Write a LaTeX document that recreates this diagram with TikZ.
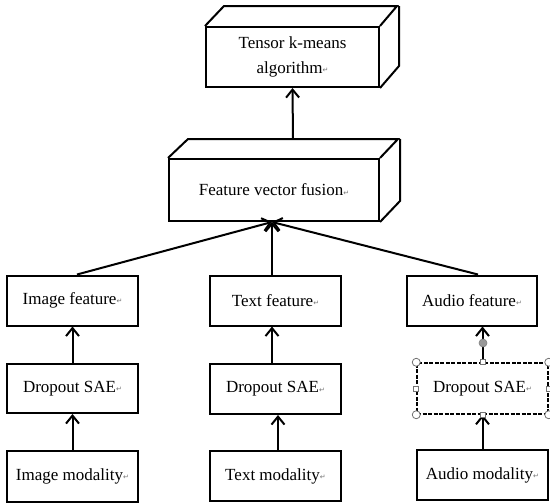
\documentclass[tikz,border=0pt]{standalone}
\usepackage{fontspec}
\setmainfont{Liberation Serif}
\newfontfamily\symfont{DejaVu Sans}
\usetikzlibrary{arrows.meta}
\newcommand{\rmk}{{\symfont\fontsize{7}{7}\selectfont\textcolor{black!55}{\raisebox{0.2ex}{↵}}}}
\begin{document}
\begin{tikzpicture}[x=1pt,y=-1pt, font=\fontsize{17}{25}\selectfont,
  box/.style={draw, line width=2pt, minimum width=131pt, minimum height=50pt, inner sep=0pt, align=center},
  arr/.style={line width=2pt, -{Straight Barb[length=8pt,width=13pt,line width=2pt]}},
  face/.style={line width=2pt, line join=miter},
  handle/.style={draw=black!55, fill=white, line width=0.8pt}]
\useasboundingbox (0,0) rectangle (550,504);

% top cuboid
\node[box, minimum width=173pt, minimum height=60pt] (tensor) at (292.5,57) {Tensor k-means\\algorithm\rmk};
\draw[face] (tensor.north west) -- ++(19,-20) -- ++(173,0) -- (tensor.north east);
\draw[face] ([shift={(19,-20)}]tensor.north east) -- ++(0,60) -- (tensor.south east);

% fusion cuboid
\node[box, minimum width=210pt, minimum height=62pt] (fusion) at (274,190) {Feature vector fusion\rmk};
\draw[face] (fusion.north west) -- ++(20,-19) -- ++(210,0) -- (fusion.north east);
\draw[face] ([shift={(20,-19)}]fusion.north east) -- ++(0,62) -- (fusion.south east);

% feature boxes
\node[box, minimum height=50pt] (imgf) at (72.5,300.5) {Image feature\rmk};
\node[box, minimum height=50pt] (txtf) at (275.5,300.5) {Text feature\rmk};
\node[box, minimum width=130pt, minimum height=50pt] (audf) at (472,300.5) {Audio feature\rmk};

% dropout boxes
\node[box, minimum height=49pt] (imgd) at (72.5,388.5) {Dropout SAE\rmk};
\node[box, minimum height=50pt] (txtd) at (275.5,389) {Dropout SAE\rmk};
\node[box, minimum height=51pt, line width=1.5pt, dash pattern=on 4pt off 1.5pt] (audd) at (482.5,388.5) {Dropout SAE\rmk};

% modality boxes
\node[box, minimum height=51pt] (imgm) at (72.5,476.5) {Image modality\rmk};
\node[box, minimum height=50pt] (txtm) at (275.5,476) {Text modality\rmk};
\node[box, minimum height=50pt] (audm) at (482.5,475) {Audio modality\rmk};

% arrows
\draw[arr] (imgm.north) -- (imgd.south);
\draw[arr] (imgd.north) -- (imgf.south);
\draw[arr] ([xshift=2.5pt]txtm.north) -- ([xshift=2.5pt]txtd.south);
\draw[arr] ([xshift=-3.5pt]txtd.north) -- ([xshift=-3.5pt]txtf.south);
\draw[arr] (audm.north) -- (audd.south);
\draw[arr] (audd.north) -- (audd.north |- audf.south);

\draw[arr] ([xshift=4.5pt]imgf.north) -- ([xshift=-2pt]fusion.south);
\draw[arr] ([xshift=-3.5pt]txtf.north) -- ([xshift=-2pt]fusion.south);
\draw[arr] ([xshift=6pt]audf.north) -- ([xshift=-2pt]fusion.south);
\draw[arr] ([shift={(19,-19)}]fusion.north) -- (tensor.south);

% selection handles
\coordinate (rot) at (483,343);
\draw[draw=black!50, fill=black!40, line width=0.6pt] (rot) circle (4pt);
\foreach \a in {north west, north east, south west, south east}
  \draw[handle] (audd.\a) circle (4pt);
\foreach \a in {north, south, west, east}
  \draw[handle] ([shift={(-2.5,-2.5)}]audd.\a) rectangle ++(5,5);
\end{tikzpicture}
\end{document}
